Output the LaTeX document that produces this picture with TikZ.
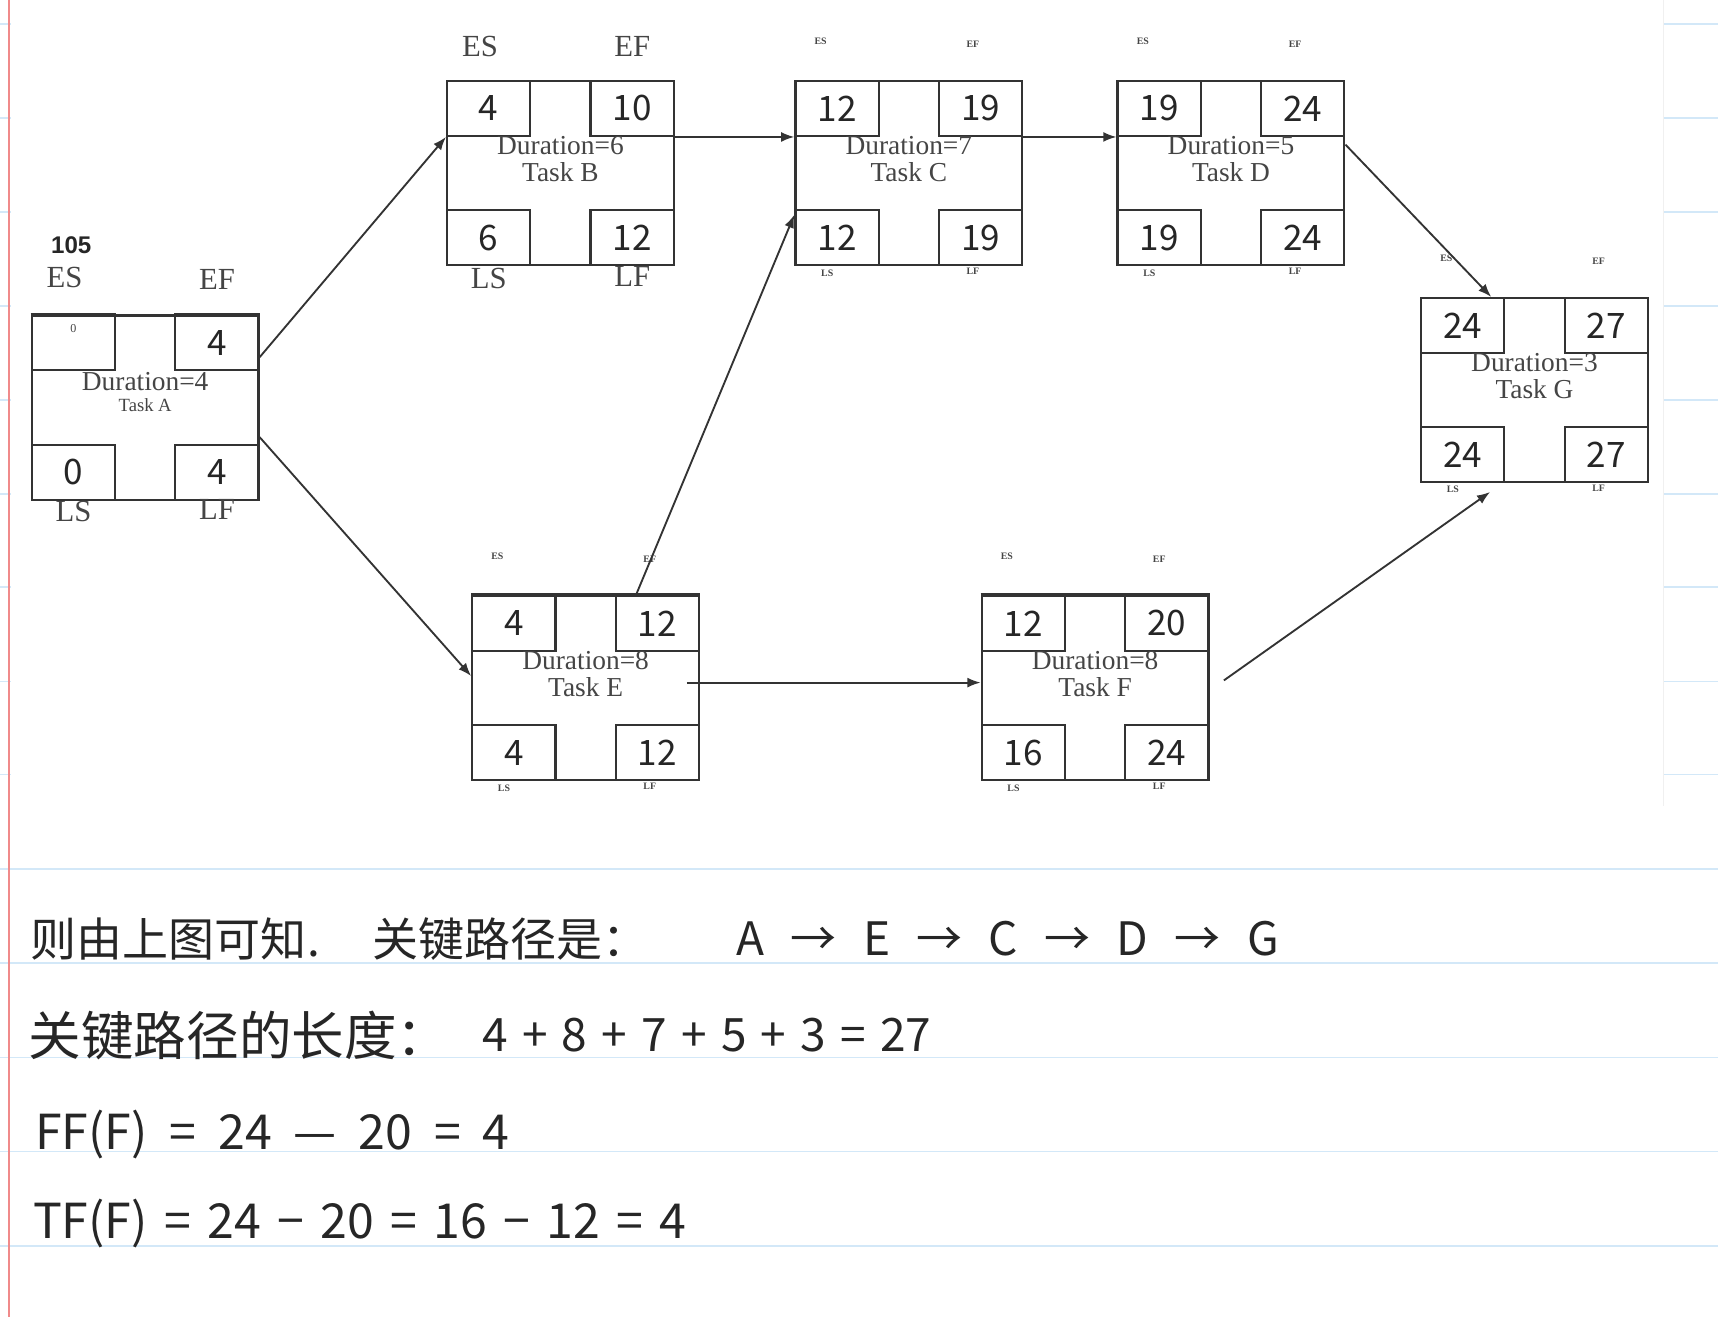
\documentclass[tikz,border=0pt]{standalone}
\usepackage{fontspec}
\setmainfont{Liberation Serif}
\newfontfamily\hand{Noto Sans CJK SC}
\newfontfamily\headfont{Liberation Sans}
\usepackage{tikz}
\usetikzlibrary{calc,arrows.meta}
\definecolor{ink}{HTML}{262626}
\definecolor{boxgray}{HTML}{333333}
\definecolor{printgray}{HTML}{454545}
\definecolor{ruleblue}{HTML}{D3E8F8}
\definecolor{marginred}{HTML}{F08A8A}
\tikzstyle{task}=[draw=boxgray, line width=2pt, minimum width=207pt, minimum height=168pt, inner sep=0pt]
\tikzstyle{cell}=[draw=boxgray, line width=2pt, minimum width=76pt, minimum height=50pt, inner sep=0pt, text=ink, font={\hand\fontsize{32}{32}\selectfont}]
\tikzstyle{dur}=[align=center, text=printgray, inner sep=0pt, font={\fontsize{25}{25}\selectfont}]
\tikzstyle{bigtag}=[text=printgray, inner sep=0pt, font={\fontsize{28}{28}\selectfont}]
\tikzstyle{tinytag}=[text=printgray, inner sep=0pt, font={\bfseries\fontsize{9}{9}\selectfont}]
\tikzstyle{link}=[draw=boxgray, line width=1.7pt, -{Latex[length=12pt,width=9pt]}]
\tikzstyle{note}=[anchor=west, text=ink, inner sep=0pt, font={\hand\fontsize{42}{42}\selectfont}]
\tikzset{wordgap/.style={execute at begin node={\spaceskip=#1\relax}}}

\begin{document}
\begin{tikzpicture}[x=1pt,y=-1pt]
\useasboundingbox (0,0) rectangle (1568,1202);
% ruled paper
\fill[white] (0,0) rectangle (1568,1202);
\foreach \r in {22,107.5,193.5,279,365,451,536,622,707,793,879,965,1051,1137}
  \draw[ruleblue, line width=1.5pt] (0,\r) -- (1568,\r);
\fill[white] (10,0) rectangle (1518,736);
\draw[black!6, line width=1pt] (1518,0) -- (1518,736);
\draw[marginred, line width=1.6pt] (8,0) -- (8,1202);

% task A
\node[task, anchor=north west] (A) at (28,287) {};
\node[cell, anchor=north west] (A-es) at (A.north west) {};
\node[cell, anchor=north east] (A-ef) at (A.north east) {4};
\node[cell, anchor=south west] (A-ls) at (A.south west) {0};
\node[cell, anchor=south east] (A-lf) at (A.south east) {4};
\draw[boxgray, line width=3.5pt] (A-es.north west) -- (A-es.north east);
\draw[boxgray, line width=3.5pt] (A-ef.north west) -- (A-ef.north east);
\node[text=printgray, inner sep=0pt, font={\fontsize{11}{11}\selectfont}] (A-es0) at ([yshift=-13pt]A-es.north) {0};
\node[dur] (A-dur) at ([yshift=-61pt]A.north) {Duration=4};
\node[dur, font={\fontsize{17}{17}\selectfont}] (A-name) at ([yshift=-83pt]A.north) {Task A};
\node[text=ink, inner sep=0pt, font={\headfont\bfseries\fontsize{22}{22}\selectfont}] (A-id) at (65,224) {105};
\node[bigtag] (A-esl) at ([xshift=-8pt,yshift=34pt]A-es.north) {ES};
\node[bigtag] (A-efl) at ([yshift=32pt]A-ef.north) {EF};
\node[bigtag] (A-lsl) at ([yshift=-10pt]A-ls.south) {LS};
\node[bigtag] (A-lfl) at ([yshift=-8pt]A-lf.south) {LF};

% tasks B to G
\foreach \n/\x/\y/\d/\es/\ef/\ls/\lf in {B/407/73/6/4/10/6/12, C/725/73/7/12/19/12/19,
    D/1019/73/5/19/24/19/24, E/430/543/8/4/12/4/12, F/895/543/8/12/20/16/24, G/1296/271/3/24/27/24/27}
{
  \node[task, anchor=north west] (\n) at (\x,\y) {};
  \node[cell, anchor=north west] (\n-es) at (\n.north west) {\es};
  \node[cell, anchor=north east] (\n-ef) at (\n.north east) {\ef};
  \node[cell, anchor=south west] (\n-ls) at (\n.south west) {\ls};
  \node[cell, anchor=south east] (\n-lf) at (\n.south east) {\lf};
  \node[dur] (\n-dur) at ([yshift=-72pt]\n.north) {Duration=\d\\Task \n};
}
\draw[boxgray, line width=3.5pt] (E.north west) -- (E.north east);
\draw[boxgray, line width=3.5pt] (F.north west) -- (F.north east);

\node[bigtag] (B-esl) at ([xshift=-8pt,yshift=31pt]B-es.north) {ES};
\node[bigtag] (B-efl) at ([yshift=31pt]B-ef.north) {EF};
\node[bigtag] (B-lsl) at ([yshift=-11pt]B-ls.south) {LS};
\node[bigtag] (B-lfl) at ([yshift=-9pt]B-lf.south) {LF};
\foreach \n in {C,D,E,F,G}
{
  \node[tinytag] (\n-esl) at ([xshift=-15pt,yshift=35pt]\n-es.north) {ES};
  \node[tinytag] (\n-efl) at ([xshift=-7pt,yshift=33pt]\n-ef.north) {EF};
  \node[tinytag] (\n-lsl) at ([xshift=-9pt,yshift=-6pt]\n-ls.south) {LS};
  \node[tinytag] (\n-lfl) at ([xshift=-7pt,yshift=-5pt]\n-lf.south) {LF};
}

% links
\draw[link] ([yshift=46pt]A.east) -- (B-es.south west);
\draw[link] ([yshift=-27pt]A.east) -- ([yshift=11pt]E.west);
\draw[link] (B-ef.south east) -- (C-es.south west);
\draw[link] (C-ef.south east) -- (D-es.south west);
\draw[link] ([xshift=46pt]E.north) -- ([yshift=-5pt]C-ls.north west);
\draw[link] ([xshift=-12pt,yshift=5pt]E.east) -- ([yshift=5pt]F.west);
\draw[link] ([yshift=-7pt]D-ef.south east) -- ([xshift=-13pt]G-es.north east);
\draw[link] ([xshift=13pt,yshift=7pt]F.east) -- ([xshift=-14pt,yshift=-8pt]G-ls.south east);

% notes
\node[note] (n1a) at (28,857) {则由上图可知.};
\node[note] (n1b) at (340,857) {关键路径是：};
\node[note, wordgap=24pt] (n1c) at (672,857) {A → E → C → D → G};
\node[note, font={\hand\fontsize{48}{48}\selectfont}] (n2a) at (26,945) {关键路径的长度：};
\node[note, wordgap=13pt] (n2b) at (440,945) {4 + 8 + 7 + 5 + 3 = 27};
\node[note, wordgap=20pt, font={\hand\fontsize{44}{44}\selectfont}] (n3) at (32,1035) {FF(F) = 24 — 20 = 4};
\node[note, wordgap=15pt, font={\hand\fontsize{44}{44}\selectfont}] (n4) at (30,1117) {TF(F) = 24 − 20 = 16 − 12 = 4};
\end{tikzpicture}
\end{document}
